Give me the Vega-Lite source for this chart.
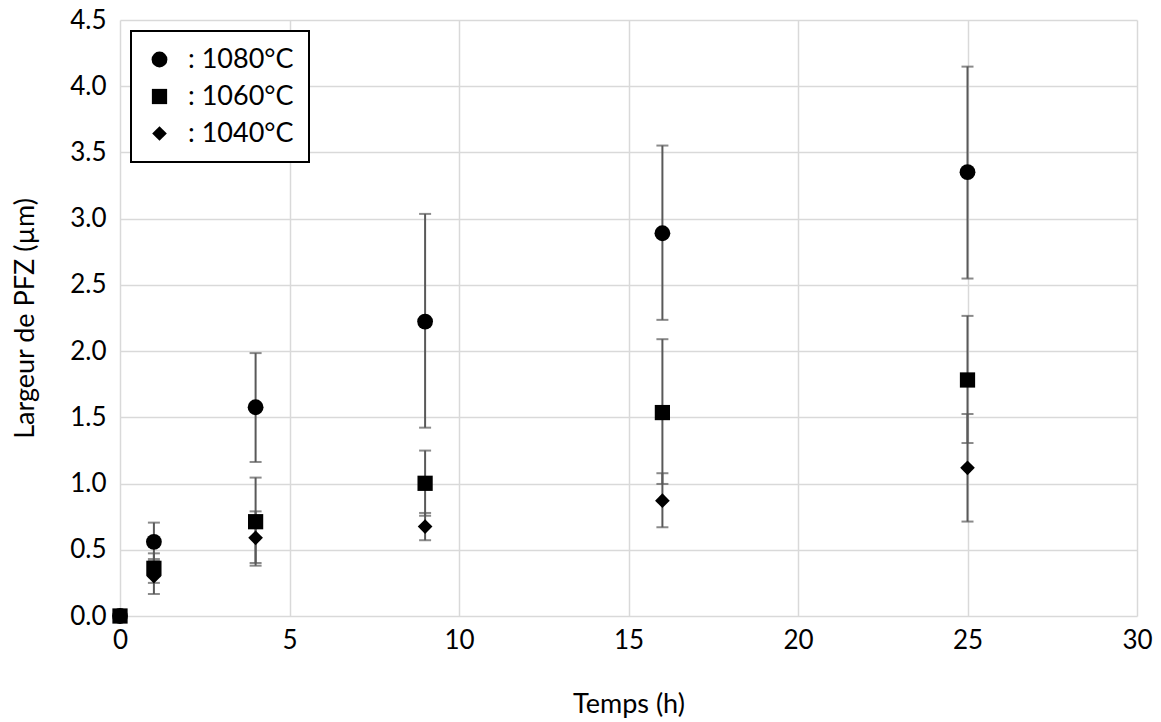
{
  "$schema": "https://vega.github.io/schema/vega-lite/v6.json",
  "width": 1017,
  "height": 596,
  "autosize": "none",
  "padding": {"left": 120, "top": 20, "right": 24, "bottom": 106},
  "background": "white",
  "config": {
    "font": "Lato",
    "view": {"stroke": null},
    "axis": {
      "labelFont": "Lato",
      "titleFont": "Lato",
      "labelFontSize": 26,
      "titleFontSize": 27,
      "labelColor": "#000000",
      "titleColor": "#000000",
      "titleFontWeight": "normal",
      "gridColor": "#d9d9d9",
      "gridWidth": 1.5,
      "ticks": false,
      "domain": false,
      "labelFlush": false
    },
    "legend": {
      "orient": "top-left",
      "offset": 11,
      "padding": 15,
      "strokeColor": "#000000",
      "strokeWidth": 2,
      "fillColor": "#ffffff",
      "labelFont": "Lato",
      "labelFontSize": 27,
      "labelColor": "#000000",
      "labelOffset": 15,
      "rowPadding": 9,
      "symbolFillColor": "#000000",
      "symbolStrokeColor": "#000000",
      "symbolOpacity": 1
    }
  },
  "data": {
    "values": [
      {"t": 1, "temp": "1080°C", "v": 0.56, "lo": 0.415, "hi": 0.705},
      {"t": 4, "temp": "1080°C", "v": 1.576, "lo": 1.163, "hi": 1.985},
      {"t": 9, "temp": "1080°C", "v": 2.223, "lo": 1.422, "hi": 3.036},
      {"t": 16, "temp": "1080°C", "v": 2.89, "lo": 2.236, "hi": 3.552},
      {"t": 25, "temp": "1080°C", "v": 3.351, "lo": 2.548, "hi": 4.148},
      {"t": 0, "temp": "1040°C", "v": 0, "lo": null, "hi": null},
      {"t": 1, "temp": "1040°C", "v": 0.30, "lo": 0.166, "hi": 0.43},
      {"t": 4, "temp": "1040°C", "v": 0.59, "lo": 0.40, "hi": 0.79},
      {"t": 9, "temp": "1040°C", "v": 0.675, "lo": 0.572, "hi": 0.778},
      {"t": 16, "temp": "1040°C", "v": 0.871, "lo": 0.67, "hi": 1.078},
      {"t": 25, "temp": "1040°C", "v": 1.119, "lo": 0.713, "hi": 1.525},
      {"t": 0, "temp": "1080°C", "v": 0, "lo": null, "hi": null},
      {"t": 1, "temp": "1060°C", "v": 0.36, "lo": 0.25, "hi": 0.473},
      {"t": 4, "temp": "1060°C", "v": 0.712, "lo": 0.38, "hi": 1.045},
      {"t": 9, "temp": "1060°C", "v": 1.002, "lo": 0.757, "hi": 1.249},
      {"t": 16, "temp": "1060°C", "v": 1.536, "lo": 0.997, "hi": 2.09},
      {"t": 25, "temp": "1060°C", "v": 1.782, "lo": 1.306, "hi": 2.266},
      {"t": 0, "temp": "1060°C", "v": 0, "lo": null, "hi": null}
    ]
  },
  "layer": [
    {
      "mark": {"type": "rule", "color": "#595959", "strokeWidth": 2},
      "encoding": {
        "x": {"field": "t", "type": "quantitative"},
        "y": {"field": "lo", "type": "quantitative"},
        "y2": {"field": "hi"}
      }
    },
    {
      "mark": {"type": "tick", "orient": "horizontal", "size": 12, "thickness": 2, "color": "#595959"},
      "encoding": {
        "x": {"field": "t", "type": "quantitative"},
        "y": {"field": "lo", "type": "quantitative"}
      }
    },
    {
      "mark": {"type": "tick", "orient": "horizontal", "size": 12, "thickness": 2, "color": "#595959"},
      "encoding": {
        "x": {"field": "t", "type": "quantitative"},
        "y": {"field": "hi", "type": "quantitative"}
      }
    },
    {
      "mark": {"type": "point", "filled": true, "color": "#000000", "opacity": 1},
      "encoding": {
        "x": {
          "field": "t", "type": "quantitative",
          "scale": {"domain": [0, 30], "nice": false, "zero": false},
          "axis": {"values": [0, 5, 10, 15, 20, 25, 30], "title": "Temps (h)", "labelPadding": 11, "titlePadding": 38}
        },
        "y": {
          "field": "v", "type": "quantitative",
          "scale": {"domain": [0, 4.5], "nice": false},
          "axis": {"values": [0, 0.5, 1, 1.5, 2, 2.5, 3, 3.5, 4, 4.5], "format": ".1f", "title": "Largeur de PFZ (µm)", "labelPadding": 14, "titlePadding": 30}
        },
        "shape": {
          "field": "temp", "type": "nominal",
          "scale": {"domain": ["1080°C", "1060°C", "1040°C"], "range": ["circle", "square", "diamond"]},
          "legend": {"title": null, "labelExpr": "': ' + datum.label"}
        },
        "size": {
          "field": "temp", "type": "nominal",
          "scale": {"domain": ["1080°C", "1060°C", "1040°C"], "range": [250, 215, 200]},
          "legend": {"title": null, "labelExpr": "': ' + datum.label"}
        }
      }
    }
  ]
}
